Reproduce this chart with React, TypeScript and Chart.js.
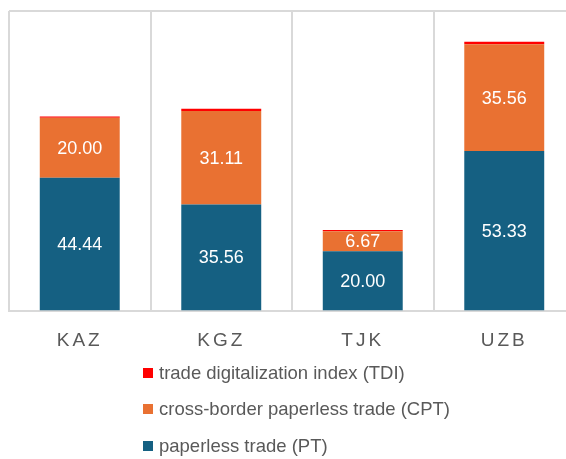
import React, { useEffect, useRef } from "react";
import { Chart, registerables } from "chart.js";

Chart.register(...registerables);

const categories = ["KAZ", "KGZ", "TJK", "UZB"];
const ptValues = [44.44, 35.56, 20.0, 53.33];
const cptValues = [20.0, 31.11, 6.67, 35.56];
const tdiValues = [0.4, 0.75, 0.4, 0.9];
const legendLabels = [
  "trade digitalization index (TDI)",
  "cross-border paperless trade (CPT)",
  "paperless trade (PT)",
];
const legendColors = ["#FF0000", "#E97132", "#156082"];

const FONT = "'Liberation Sans', Arial, sans-serif";

const letterSpacingPlugin = {
  id: "letterSpacingTicks",
  beforeDraw(chart: any) {
    (chart.ctx as any).letterSpacing = "3px";
  },
  beforeDatasetsDraw(chart: any) {
    (chart.ctx as any).letterSpacing = "0px";
  },
};

const valueLabelPlugin = {
  id: "valueLabels",
  afterDatasetsDraw(chart: any) {
    const ctx = chart.ctx;
    ctx.save();
    (ctx as any).letterSpacing = "0px";
    ctx.font = `18px ${FONT}`;
    ctx.fillStyle = "#ffffff";
    ctx.textAlign = "center";
    ctx.textBaseline = "middle";
    [0, 1].forEach((di) => {
      const meta = chart.getDatasetMeta(di);
      const data = chart.data.datasets[di].data as number[];
      meta.data.forEach((el: any, i: number) => {
        const cy = (el.y + el.base) / 2;
        ctx.fillText(data[i].toFixed(2), el.x, cy + 1);
      });
    });
    ctx.restore();
  },
};

export default function App() {
  const canvasRef = useRef<HTMLCanvasElement | null>(null);

  useEffect(() => {
    if (!canvasRef.current) return;
    const chart = new Chart(canvasRef.current, {
      type: "bar",
      data: {
        labels: categories,
        datasets: [
          {
            label: "paperless trade (PT)",
            data: ptValues,
            backgroundColor: "#156082",
            barPercentage: 0.565,
            categoryPercentage: 1,
          },
          {
            label: "cross-border paperless trade (CPT)",
            data: cptValues,
            backgroundColor: "#E97132",
            barPercentage: 0.565,
            categoryPercentage: 1,
          },
          {
            label: "trade digitalization index (TDI)",
            data: tdiValues,
            backgroundColor: "#FF0000",
            barPercentage: 0.565,
            categoryPercentage: 1,
          },
        ],
      },
      options: {
        animation: false,
        responsive: false,
        devicePixelRatio: 1,
        layout: { padding: { left: 9, top: 11, right: 5, bottom: 0 } },
        plugins: {
          legend: { display: false },
          tooltip: { enabled: false },
        },
        scales: {
          x: {
            stacked: true,
            grid: { color: "#d9d9d9", lineWidth: 2, drawTicks: false },
            border: { color: "#d9d9d9", width: 2 },
            ticks: {
              color: "#595959",
              font: { family: FONT, size: 19 },
              padding: 18,
            },
          },
          y: {
            stacked: true,
            display: true,
            min: 0,
            max: 100,
            ticks: { display: false, stepSize: 20 },
            border: { display: false },
            grid: {
              drawTicks: false,
              lineWidth: 2,
              color: (c: any) =>
                c.tick && c.tick.value === 100 ? "#d9d9d9" : "rgba(0,0,0,0)",
            },
          },
        },
      },
      plugins: [letterSpacingPlugin, valueLabelPlugin],
    });
    return () => chart.destroy();
  }, []);

  const rowTops = [363, 399.3, 435.5];

  return (
    <div
      style={{
        position: "fixed",
        left: 0,
        top: 0,
        width: 566,
        height: 459,
        overflow: "hidden",
        background: "#ffffff",
      }}
    >
      <canvas
        ref={canvasRef}
        width={580}
        height={370}
        style={{ position: "absolute", left: 0, top: 0, width: 580, height: 370 }}
      />
      {legendLabels.map((lbl, i) => (
        <div
          key={lbl}
          style={{
            position: "absolute",
            left: 143,
            top: rowTops[i],
            height: 20,
            lineHeight: "20px",
            fontFamily: FONT,
            fontSize: 18.5,
            color: "#595959",
            whiteSpace: "nowrap",
          }}
        >
          <span
            style={{
              position: "absolute",
              left: 0,
              top: 5,
              width: 10,
              height: 10,
              background: legendColors[i],
            }}
          />
          <span style={{ position: "absolute", left: 16, top: 0 }}>{lbl}</span>
        </div>
      ))}
    </div>
  );
}
